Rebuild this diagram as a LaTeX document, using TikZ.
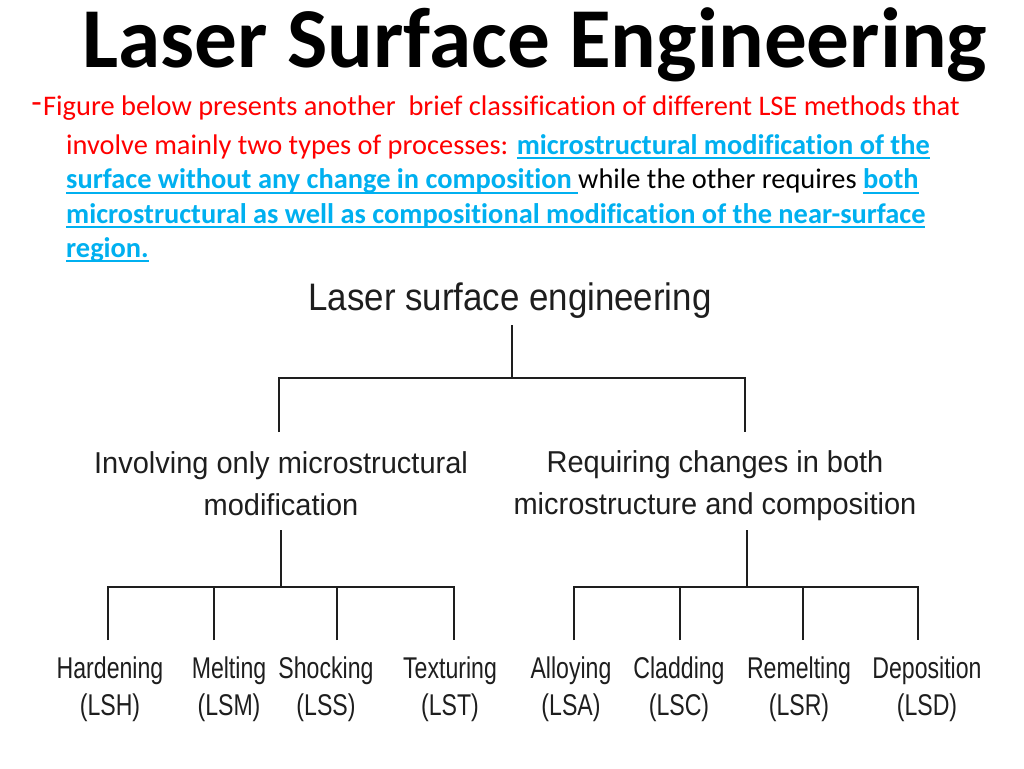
\documentclass[tikz,border=0pt]{standalone}
\usepackage{fontspec}
\setmainfont[Ligatures=NoCommon]{Carlito}
\newfontfamily\diagfont[FakeStretch=0.91]{Liberation Sans}
\newfontfamily\midfont[FakeStretch=0.96]{Liberation Sans}
\newfontfamily\leaffont[FakeStretch=0.77]{Liberation Sans}
\definecolor{lblue}{HTML}{00B0F0}
\definecolor{hred}{HTML}{FF0000}
\definecolor{diag}{HTML}{1E1E1E}
\newcommand\myul[1]{\setbox0\hbox{#1}\rlap{\rule[-5pt]{\wd0}{1.8pt}}\box0}
\begin{document}
\begin{tikzpicture}[x=1pt,y=-1pt]
\useasboundingbox (0,0) rectangle (1024,768);
\fill[white] (0,0) rectangle (1024,768);
\tikzset{
 hdr/.style={anchor=base west, inner sep=0pt, font=\fontsize{28.4}{32}\selectfont},
 toplbl/.style={anchor=base, inner sep=0pt, text=diag, font=\diagfont\fontsize{38.3}{44}\selectfont},
 midlbl/.style={anchor=base, align=center, inner sep=0pt, text=diag, font=\midfont\fontsize{30.2}{42}\selectfont},
 leaflbl/.style={anchor=base, align=center, inner sep=0pt, text=diag, font=\leaffont\fontsize{30}{37}\selectfont},
 tree/.style={draw=diag, line width=2pt},
}
% header
\node[anchor=base, inner sep=0pt, font=\bfseries\fontsize{85.3}{90}\selectfont] (title) at (535,67) {Laser Surface Engineering};
\node[hdr, text=hred, anchor=base east] (dash) at (42,113) {\fontsize{34}{30}\selectfont -};
\node[hdr, text=hred] (l1) at (43,115) {Figure below presents another\ \ brief classification of different LSE methods that};
\node[hdr] (l2) at (66,154) {\textcolor{hred}{involve mainly two types of processes: }\textcolor{lblue}{\bfseries\myul{microstructural modification of the}}};
\node[hdr] (l3) at (66,188.5) {\textcolor{lblue}{\bfseries\myul{surface without any change in composition\ }}while the other requires \textcolor{lblue}{\bfseries\myul{both}}};
\node[hdr] (l4) at (66,223) {\textcolor{lblue}{\bfseries\myul{microstructural as well as compositional modification of the near-surface}}};
\node[hdr] (l5) at (66,257) {\textcolor{lblue}{\bfseries\myul{region.}}};
% diagram
\node[toplbl] (root) at (510,310.7) {Laser surface engineering};
\node[midlbl] (mL) at (281,515) {Involving only microstructural\\modification};
\node[midlbl] (mR) at (715,514) {Requiring changes in both\\microstructure and composition};
\node[leaflbl] (lsh) at (110,715) {Hardening\\(LSH)};
\node[leaflbl] (lsm) at (229,715) {Melting\\(LSM)};
\node[leaflbl] (lss) at (326,715) {Shocking\\(LSS)};
\node[leaflbl] (lst) at (450,715) {Texturing\\(LST)};
\node[leaflbl] (lsa) at (571,715) {Alloying\\(LSA)};
\node[leaflbl] (lsc) at (679,715) {Cladding\\(LSC)};
\node[leaflbl] (lsr) at (799,715) {Remelting\\(LSR)};
\node[leaflbl] (lsd) at (927,715) {Deposition\\(LSD)};
% connector end points
\coordinate (rootS) at (512,325);
\coordinate (j0) at (512,378);
\coordinate (mLN) at (279,432);
\coordinate (mRN) at (745,432);
\coordinate (mLS) at (281,530);
\coordinate (jL) at (281,587);
\coordinate (mRS) at (747,530);
\coordinate (jR) at (747,587);
\coordinate (lshN) at (108,640);
\coordinate (lsmN) at (214,640);
\coordinate (lssN) at (337,640);
\coordinate (lstN) at (454,640);
\coordinate (lsaN) at (574,640);
\coordinate (lscN) at (680,640);
\coordinate (lsrN) at (803,640);
\coordinate (lsdN) at (918,640);
\draw[tree] (rootS) -- (j0);
\draw[tree] (mLN) |- (j0) -| (mRN);
\draw[tree] (mLS) -- (jL);
\draw[tree] (lshN) |- (jL) -| (lstN);
\draw[tree] (lsmN) -- (lsmN |- jL);
\draw[tree] (lssN) -- (lssN |- jL);
\draw[tree] (mRS) -- (jR);
\draw[tree] (lsaN) |- (jR) -| (lsdN);
\draw[tree, line width=1.3pt] (lscN) -- (lscN |- jR);
\draw[tree] (lsrN) -- (lsrN |- jR);
\end{tikzpicture}
\end{document}
